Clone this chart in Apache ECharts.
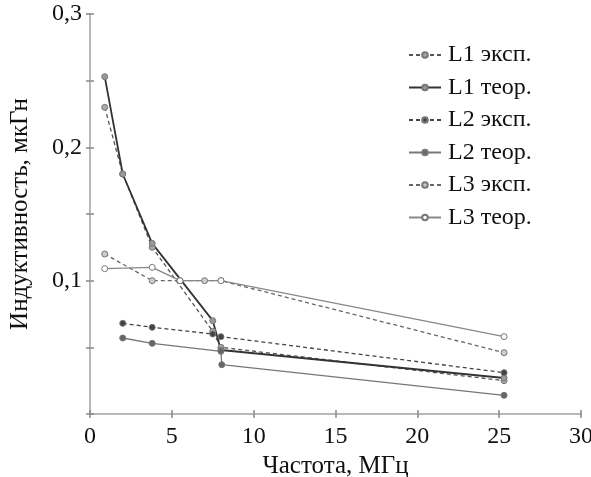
<!DOCTYPE html>
<html><head><meta charset="utf-8">
<script src="https://cdn.jsdelivr.net/npm/echarts@6/dist/echarts.min.js"></script>
<style>html,body{margin:0;padding:0;background:#fff}#c{width:591px;height:477px}</style>
</head><body><div id="c"></div>
<script>
const xTicks = [0, 5, 10, 15, 20, 25, 30];
const yTicks = [0.1, 0.2, 0.3];
const seriesNames = ['L1 эксп.', 'L1 теор.', 'L2 эксп.', 'L2 теор.', 'L3 эксп.', 'L3 теор.'];
const L1exp_x = [0.9, 2, 3.8, 7.5, 8, 25.3];
const L1exp_y = [0.23, 0.18, 0.125, 0.062, 0.05, 0.025];
const L1teor_x = [0.9, 2, 3.8, 7.5, 8, 25.3];
const L1teor_y = [0.253, 0.18, 0.128, 0.07, 0.048, 0.027];
const L2exp_x = [2, 3.8, 7.5, 8, 25.3];
const L2exp_y = [0.068, 0.065, 0.06, 0.058, 0.031];
const L2teor_x = [2, 3.8, 8, 8.05, 25.3];
const L2teor_y = [0.057, 0.053, 0.047, 0.037, 0.014];
const L3exp_x = [0.9, 3.8, 5.5, 7, 8, 25.3];
const L3exp_y = [0.12, 0.1, 0.1, 0.1, 0.1, 0.046];
const L3teor_x = [0.9, 3.8, 5.5, 8, 25.3];
const L3teor_y = [0.109, 0.11, 0.1, 0.1, 0.058];

const xs = [L1exp_x, L1teor_x, L2exp_x, L2teor_x, L3exp_x, L3teor_x];
const ys = [L1exp_y, L1teor_y, L2exp_y, L2teor_y, L3exp_y, L3teor_y];
const styles = [
  {type:[4,3], color:'#555', w:1.3, fill:'#aaa'},
  {type:'solid', color:'#333', w:1.8, fill:'#999'},
  {type:[4,3], color:'#444', w:1.3, fill:'#444'},
  {type:'solid', color:'#777', w:1.3, fill:'#666'},
  {type:[4,3], color:'#666', w:1.3, fill:'#ccc'},
  {type:'solid', color:'#888', w:1.3, fill:'#fff'}
];
const font = '"Liberation Serif", "Times New Roman", serif';
const chart = echarts.init(document.getElementById('c'));
const axisCommon = {
  axisLine: {show: true, lineStyle: {color: '#b8b8b8', width: 2}},
  axisTick: {show: true, inside: true, length: 4, lineStyle: {color: '#888', width: 1.5}},
  splitLine: {show: false}
};
chart.setOption({
  animation: false,
  backgroundColor: '#fff',
  grid: {left: 90, right: 10, top: 14, bottom: 63, containLabel: false, outerBoundsMode: 'none'},
  legend: {
    left: 403, top: 38, orient: 'vertical', itemGap: 8.5, itemWidth: 32, itemHeight: 7,
    textStyle: {fontFamily: font, fontSize: 24, lineHeight: 24, color: '#111', padding: [0,0,0,2]},
    data: seriesNames
  },
  xAxis: [
    Object.assign({type: 'value', min: 0, max: 30, interval: 5, position: 'bottom',
      name: 'Частота, МГц', nameLocation: 'middle', nameGap: 37,
      nameTextStyle: {fontFamily: font, fontSize: 25, color: '#111'},
      axisLabel: {fontFamily: font, fontSize: 24, color: '#111', margin: 11,
        formatter: v => xTicks.includes(v) ? String(v) : ''}}, axisCommon),
    Object.assign({type: 'value', min: 0, max: 30, interval: 5, position: 'top',
      axisLabel: {show: false}}, axisCommon)
  ],
  yAxis: [
    Object.assign({type: 'value', min: 0, max: 0.3, interval: 0.05, position: 'left',
      name: 'Индуктивность, мкГн', nameLocation: 'middle', nameGap: 57,
      nameTextStyle: {fontFamily: font, fontSize: 25, color: '#111'},
      axisLabel: {fontFamily: font, fontSize: 24, color: '#111', margin: 8,
        formatter: v => {
          const m = yTicks.find(t => Math.abs(t - v) < 1e-6);
          return m !== undefined ? m.toFixed(1).replace('.', ',') : '';
        }}}, axisCommon),
    Object.assign({type: 'value', min: 0, max: 0.3, interval: 0.05, position: 'right',
      axisLabel: {show: false}}, axisCommon)
  ],
  series: seriesNames.map((n, i) => ({
    name: n, type: 'line', xAxisIndex: 0, yAxisIndex: 0,
    data: xs[i].map((x, k) => [x, ys[i][k]]),
    symbol: 'circle', symbolSize: 6, showAllSymbol: true,
    lineStyle: {type: styles[i].type, color: styles[i].color, width: styles[i].w},
    itemStyle: {color: styles[i].fill, borderColor: '#777', borderWidth: 1}
  }))
});
</script></body></html>
